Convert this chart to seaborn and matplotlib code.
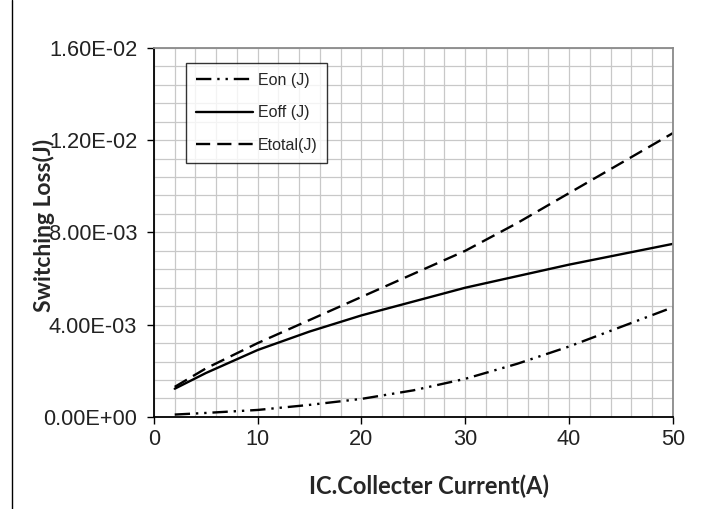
import numpy as np
import pandas as pd
import matplotlib
matplotlib.use("Agg")
import matplotlib.pyplot as plt
import seaborn as sns
from matplotlib.ticker import MultipleLocator
from matplotlib.lines import Line2D

# ---- data ----
current = [2, 5, 10, 15, 20, 25, 30, 35, 40, 45, 50]
eon = [0.0001, 0.00017, 0.0003, 0.00052, 0.00078, 0.00115, 0.00165, 0.0023, 0.00305, 0.0039, 0.00475]
eoff = [0.00122, 0.0019, 0.0029, 0.0037, 0.0044, 0.0050, 0.0056, 0.0061, 0.0066, 0.00705, 0.0075]
etotal = [0.0013, 0.0021, 0.0032, 0.0042, 0.0052, 0.0062, 0.0072, 0.0084, 0.0097, 0.0110, 0.0123]
series_names = ["Eon (J)", "Eoff (J)", "Etotal(J)"]
x_ticks = [0, 10, 20, 30, 40, 50]
y_ticks = [0.0, 0.004, 0.008, 0.012, 0.016]
y_tick_labels = ["0.00E+00", "4.00E-03", "8.00E-03", "1.20E-02", "1.60E-02"]
x_label = "IC.Collecter Current(A)"
y_label = "Switching Loss(J)"

df = pd.DataFrame({
    "x": current * 3,
    "y": eon + eoff + etotal,
    "series": [series_names[0]] * len(current) + [series_names[1]] * len(current) + [series_names[2]] * len(current),
})

sns.set_theme(style="white")
plt.rcParams["font.family"] = ["Liberation Sans", "DejaVu Sans"]

fig = plt.figure(figsize=(7.03, 5.09), dpi=100)
ax = fig.add_axes([0.219, 0.181, 0.738, 0.725])

styles = {
    series_names[0]: (0, (6.5, 2.5, 1, 2.5, 1, 2.5)),
    series_names[1]: "-",
    series_names[2]: (0, (6, 3)),
}
for name in series_names:
    sub = df[df["series"] == name]
    sns.lineplot(data=sub, x="x", y="y", ax=ax, color="black", linewidth=1.7,
                 linestyle=styles[name], label=name, legend=False)

ax.set_xlim(0, 50)
ax.set_ylim(0, 0.016)
ax.set_xticks(x_ticks)
ax.set_yticks(y_ticks)
ax.xaxis.set_minor_locator(MultipleLocator(2))
ax.yaxis.set_minor_locator(MultipleLocator(0.0008))
ax.set_yticklabels(y_tick_labels)
ax.set_xticklabels([str(v) for v in x_ticks])
ax.grid(True, which="both", color="#c8c8c8", linewidth=0.9)
ax.set_axisbelow(True)

ax.tick_params(axis="y", which="major", direction="out", length=5, width=1,
               color="black", labelsize=15.7, labelcolor="#222222", pad=7, left=True)
ax.tick_params(axis="x", which="major", direction="out", length=5, width=1,
               color="black", labelsize=15.7, labelcolor="#222222", pad=4, bottom=True)
ax.tick_params(axis="both", which="minor", length=0)

for s in ["left", "bottom"]:
    ax.spines[s].set_color("black")
    ax.spines[s].set_linewidth(1.3)
for s in ["top", "right"]:
    ax.spines[s].set_color("#8a8a8a")
    ax.spines[s].set_linewidth(1.3)

ax.set_xlabel(x_label, fontsize=17, fontweight="bold", family=["Lato", "DejaVu Sans"])
ax.set_ylabel(y_label, fontsize=16.5, fontweight="bold", family=["Lato", "DejaVu Sans"])
ax.yaxis.set_label_coords(-0.19, 0.52)
ax.xaxis.set_label_coords(0.53, -0.155)

handles = [Line2D([], [], color="black", linewidth=1.7, linestyle=styles[n]) for n in series_names]
leg = ax.legend(handles, series_names, loc="upper left", bbox_to_anchor=(0.0617, 0.958),
                borderaxespad=0.0,
                frameon=True, fancybox=False, edgecolor="black", fontsize=11.5,
                handlelength=3.6, labelspacing=1.1, borderpad=0.6, handletextpad=0.3)
leg.get_frame().set_linewidth(1.0)
leg.get_frame().set_facecolor("white")

# left border line of the figure
fig.add_artist(Line2D([12 / 703, 12 / 703], [0, 1], transform=fig.transFigure, color="black", linewidth=1.0))

fig.savefig("out.png", dpi=100)
